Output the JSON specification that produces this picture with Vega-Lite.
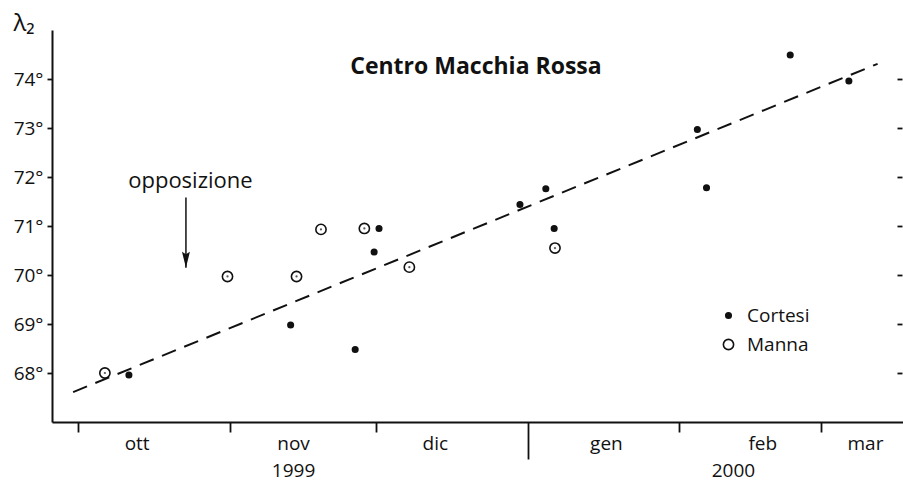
{
  "$schema": "https://vega.github.io/schema/vega-lite/v6.json",
  "width": 851,
  "height": 392,
  "autosize": {"type": "none"},
  "padding": {"left": 52, "top": 30, "right": 0, "bottom": 59},
  "background": "white",
  "config": {
    "font": "Open Sans",
    "view": {"stroke": null},
    "axis": {"grid": false, "labelColor": "#111", "titleColor": "#111", "domainColor": "#111", "tickColor": "#111"}
  },
  "datasets": {
    "osservazioni": [
      {"osservatore": "Manna", "data": "1999-10-06T12:00:00Z", "lambda": 68.0},
      {"osservatore": "Manna", "data": "1999-10-31T14:00:00Z", "lambda": 69.97},
      {"osservatore": "Manna", "data": "1999-11-14T17:00:00Z", "lambda": 69.97},
      {"osservatore": "Manna", "data": "1999-11-19T17:00:00Z", "lambda": 70.93},
      {"osservatore": "Manna", "data": "1999-11-28T14:00:00Z", "lambda": 70.95},
      {"osservatore": "Manna", "data": "1999-12-07T19:00:00Z", "lambda": 70.16},
      {"osservatore": "Manna", "data": "2000-01-06T14:00:00Z", "lambda": 70.55},
      {"osservatore": "Cortesi", "data": "1999-10-11T10:00:00Z", "lambda": 67.96},
      {"osservatore": "Cortesi", "data": "1999-11-13T12:00:00Z", "lambda": 68.98},
      {"osservatore": "Cortesi", "data": "1999-11-26T17:00:00Z", "lambda": 68.48},
      {"osservatore": "Cortesi", "data": "1999-11-30T14:00:00Z", "lambda": 70.47},
      {"osservatore": "Cortesi", "data": "1999-12-01T14:00:00Z", "lambda": 70.95},
      {"osservatore": "Cortesi", "data": "1999-12-30T10:00:00Z", "lambda": 71.44},
      {"osservatore": "Cortesi", "data": "2000-01-04T17:00:00Z", "lambda": 71.76},
      {"osservatore": "Cortesi", "data": "2000-01-06T10:00:00Z", "lambda": 70.95},
      {"osservatore": "Cortesi", "data": "2000-02-04T17:00:00Z", "lambda": 72.97},
      {"osservatore": "Cortesi", "data": "2000-02-06T14:00:00Z", "lambda": 71.78},
      {"osservatore": "Cortesi", "data": "2000-02-23T17:00:00Z", "lambda": 74.49},
      {"osservatore": "Cortesi", "data": "2000-03-06T17:00:00Z", "lambda": 73.96}
    ],
    "retta": [
      {"data": "1999-09-30T00:00:00Z", "lambda": 67.61},
      {"data": "2000-03-12T14:00:00Z", "lambda": 74.31}
    ],
    "titolo": [
      {"testo": "Centro Macchia Rossa", "data": "1999-12-21T10:00:00Z", "lambda": 74.1}
    ],
    "nota": [
      {"testo": "opposizione", "data": "1999-10-24T00:00:00Z", "lambda": 71.77}
    ],
    "freccia": [
      {"data": "1999-10-23T02:00:00Z", "da": 71.58, "a": 70.15}
    ]
  },
  "resolve": {"axis": {"x": "independent", "y": "independent"}},
  "layer": [
    {
      "data": {"name": "retta"},
      "mark": {"type": "line", "color": "#111", "strokeWidth": 2, "strokeDash": [15, 9]},
      "encoding": {
        "x": {
          "field": "data", "type": "temporal",
          "scale": {"type": "utc", "domain": [
            {"year": 1999, "month": 9, "date": 25, "hours": 16, "minutes": 21, "utc": true},
            {"year": 2000, "month": 3, "date": 17, "hours": 18, "minutes": 43, "utc": true}
          ], "nice": false},
          "axis": {
            "orient": "bottom", "title": null, "labels": false,
            "values": [
              {"year": 1999, "month": 10, "date": 1, "utc": true},
              {"year": 1999, "month": 11, "date": 1, "utc": true},
              {"year": 1999, "month": 12, "date": 1, "utc": true},
              {"year": 2000, "month": 2, "date": 1, "utc": true},
              {"year": 2000, "month": 3, "date": 1, "utc": true}
            ],
            "tickSize": 10, "tickWidth": 1.8, "domainWidth": 2
          }
        },
        "y": {
          "field": "lambda", "type": "quantitative",
          "scale": {"domain": [67, 75], "nice": false, "zero": false},
          "axis": {
            "orient": "left", "values": [68, 69, 70, 71, 72, 73, 74],
            "labelExpr": "datum.value + '°'", "labelFontSize": 19, "labelPadding": 4,
            "tickSize": 5, "tickWidth": 1.8, "domainWidth": 2,
            "title": "λ₂", "titleAngle": 0, "titleFontSize": 24, "titleFontWeight": "normal",
            "titleX": -39, "titleY": 0, "titleAlign": "left", "titleBaseline": "alphabetic"
          }
        }
      }
    },
    {
      "data": {"name": "osservazioni"},
      "mark": {"type": "point", "filled": true, "stroke": "#111", "strokeWidth": 1.6, "opacity": 1},
      "encoding": {
        "x": {
          "field": "data", "type": "temporal",
          "axis": {
            "orient": "bottom", "title": null, "labels": false, "domain": false,
            "values": [{"year": 2000, "month": 1, "date": 1, "utc": true}],
            "tickSize": 37, "tickWidth": 1.8
          }
        },
        "y": {
          "field": "lambda", "type": "quantitative",
          "axis": {
            "orient": "right", "values": [68, 69, 70, 71, 72, 73, 74], "labels": false,
            "domain": false, "tickSize": 5, "tickWidth": 1.8, "offset": -6, "title": null
          }
        },
        "fill": {
          "field": "osservatore", "type": "nominal",
          "scale": {"domain": ["Cortesi", "Manna"], "range": ["#111", "white"]},
          "legend": {
            "orient": "none", "legendX": 667, "legendY": 276, "title": null,
            "labelFontSize": 19, "labelColor": "#111", "labelOffset": 9, "rowPadding": 9,
            "symbolStrokeColor": "#111", "symbolStrokeWidth": 1.6, "padding": 0
          }
        },
        "size": {
          "field": "osservatore", "type": "nominal",
          "scale": {"domain": ["Cortesi", "Manna"], "range": [30, 105]}
        }
      }
    },
    {
      "data": {"name": "osservazioni"},
      "transform": [{"filter": "datum.osservatore === 'Manna'"}],
      "mark": {"type": "point", "filled": true, "color": "#111", "size": 5},
      "encoding": {
        "x": {
          "field": "data", "type": "temporal",
          "axis": {
            "orient": "bottom", "title": null, "domain": false, "ticks": false, "tickSize": 0,
            "values": [
              {"year": 1999, "month": 10, "date": 13, "utc": true},
              {"year": 1999, "month": 11, "date": 14, "utc": true},
              {"year": 1999, "month": 12, "date": 13, "utc": true},
              {"year": 2000, "month": 1, "date": 17, "utc": true},
              {"year": 2000, "month": 2, "date": 18, "utc": true},
              {"year": 2000, "month": 3, "date": 10, "utc": true}
            ],
            "labelExpr": "['gen','feb','mar','apr','mag','giu','lug','ago','set','ott','nov','dic'][utcmonth(datum.value)]",
            "labelFontSize": 19, "labelBaseline": "alphabetic", "labelPadding": 27, "labelFlush": false, "labelOverlap": false
          }
        },
        "y": {"field": "lambda", "type": "quantitative", "axis": null}
      }
    },
    {
      "data": {"name": "nota"},
      "mark": {"type": "text", "fontSize": 22, "color": "#111", "align": "center", "baseline": "alphabetic"},
      "encoding": {
        "x": {
          "field": "data", "type": "temporal",
          "axis": {
            "orient": "bottom", "title": null, "domain": false, "ticks": false, "tickSize": 0,
            "values": [
              {"year": 1999, "month": 11, "date": 14, "utc": true},
              {"year": 2000, "month": 2, "date": 12, "utc": true}
            ],
            "labelExpr": "'' + utcyear(datum.value)",
            "labelFontSize": 19, "labelBaseline": "alphabetic", "labelPadding": 54, "labelFlush": false, "labelOverlap": false
          }
        },
        "y": {"field": "lambda", "type": "quantitative", "axis": null},
        "text": {"field": "testo"}
      }
    },
    {
      "data": {"name": "titolo"},
      "mark": {"type": "text", "fontSize": 23, "fontWeight": "bold", "color": "#111", "align": "center", "baseline": "alphabetic"},
      "encoding": {
        "x": {"field": "data", "type": "temporal", "axis": null},
        "y": {"field": "lambda", "type": "quantitative", "axis": null},
        "text": {"field": "testo"}
      }
    },
    {
      "data": {"name": "freccia"},
      "mark": {"type": "rule", "color": "#111", "strokeWidth": 1.5},
      "encoding": {
        "x": {"field": "data", "type": "temporal", "axis": null},
        "y": {"field": "da", "type": "quantitative", "axis": null},
        "y2": {"field": "a"}
      }
    },
    {
      "data": {"name": "freccia"},
      "mark": {"type": "point", "filled": true, "color": "#111", "opacity": 1, "size": 250,
               "shape": "M0,0 L-0.5,-2 L0,-1.7 L0.5,-2 Z"},
      "encoding": {
        "x": {"field": "data", "type": "temporal", "axis": null},
        "y": {"field": "a", "type": "quantitative", "axis": null}
      }
    }
  ]
}
